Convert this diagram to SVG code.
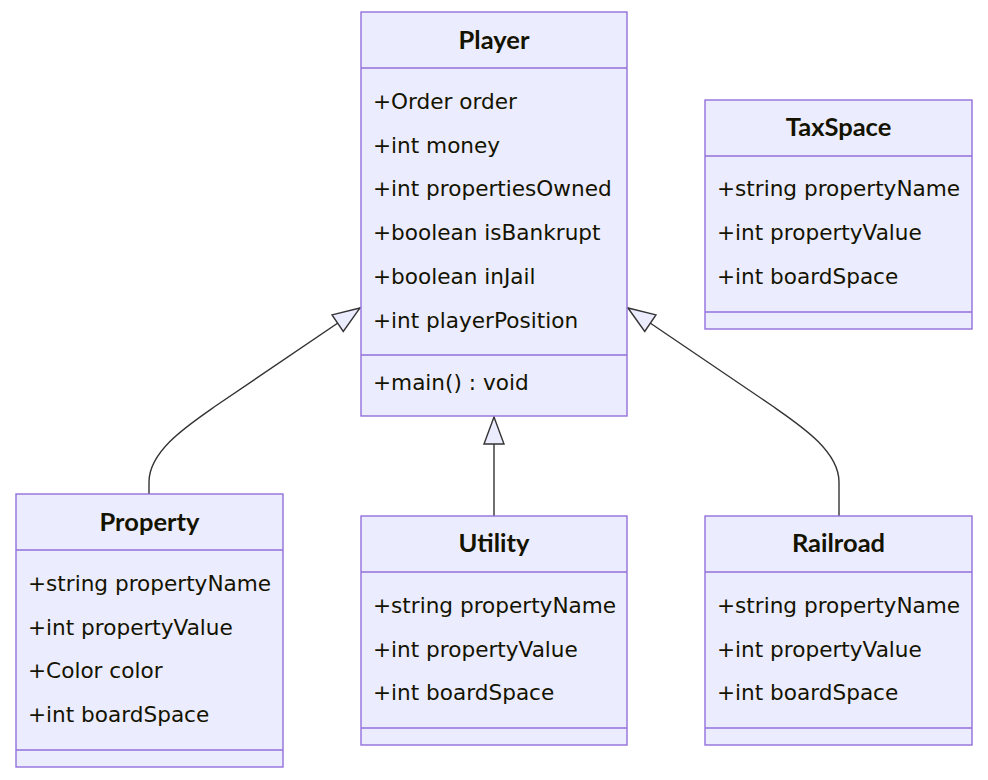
<svg xmlns="http://www.w3.org/2000/svg" width="988" height="780" viewBox="0 0 988 780">
<style>
.box{fill:#ECECFF;stroke:#9370DB;stroke-width:1.4}
.div{stroke:#9370DB;stroke-width:1.4}
.t{font-family:"DejaVu Sans",Verdana,sans-serif;font-size:21.6px;fill:#131300}
.h{font-family:Lato,"DejaVu Sans",sans-serif;font-size:25.5px;font-weight:bold;fill:#131300;text-anchor:middle}
.edge{fill:none;stroke:#333;stroke-width:1.4}
</style>
<defs>
<marker id="tri" markerUnits="userSpaceOnUse" markerWidth="32" markerHeight="26" viewBox="-29 -13 32 26" refX="0" refY="0" orient="auto" overflow="visible">
<path d="M0,0 L-27,-10 L-27,10 Z" fill="#ECECFF" stroke="#333" stroke-width="1.4"/>
</marker>
</defs>
<rect width="988" height="780" fill="#fff"/>
<g id="connectors">
<path class="edge" d="M149,494 L149,482 C149,450 190,424 217,405 L360,308" marker-end="url(#tri)"/>
<path class="edge" d="M494,516 L494,417" marker-end="url(#tri)"/>
<path class="edge" d="M839,516 L839,482 C839,450 798,424 771,405 L628,308" marker-end="url(#tri)"/>
</g>
<g id="Player">
<rect class="box" x="361" y="12" width="266" height="404"/>
<line class="div" x1="361" y1="68" x2="627" y2="68"/>
<line class="div" x1="361" y1="355" x2="627" y2="355"/>
<text class="h" x="494" y="48.5">Player</text>
<text class="t" x="373" y="109">+Order order</text>
<text class="t" x="373" y="153">+int money</text>
<text class="t" x="373" y="196">+int propertiesOwned</text>
<text class="t" x="373" y="240">+boolean isBankrupt</text>
<text class="t" x="373" y="284">+boolean inJail</text>
<text class="t" x="373" y="328">+int playerPosition</text>
<text class="t" x="373" y="390">+main() : void</text>
</g>
<g id="TaxSpace">
<rect class="box" x="705" y="100" width="267" height="229"/>
<line class="div" x1="705" y1="156" x2="972" y2="156"/>
<line class="div" x1="705" y1="312" x2="972" y2="312"/>
<text class="h" x="838.5" y="135.5">TaxSpace</text>
<text class="t" x="717" y="196">+string propertyName</text>
<text class="t" x="717" y="240">+int propertyValue</text>
<text class="t" x="717" y="284">+int boardSpace</text>
</g>
<g id="Property">
<rect class="box" x="16" y="494" width="267" height="273"/>
<line class="div" x1="16" y1="550" x2="283" y2="550"/>
<line class="div" x1="16" y1="750" x2="283" y2="750"/>
<text class="h" x="149.5" y="530.5">Property</text>
<text class="t" x="28" y="591">+string propertyName</text>
<text class="t" x="28" y="635">+int propertyValue</text>
<text class="t" x="28" y="678">+Color color</text>
<text class="t" x="28" y="722">+int boardSpace</text>
</g>
<g id="Utility">
<rect class="box" x="361" y="516" width="266" height="229"/>
<line class="div" x1="361" y1="572" x2="627" y2="572"/>
<line class="div" x1="361" y1="728" x2="627" y2="728"/>
<text class="h" x="494" y="551.5">Utility</text>
<text class="t" x="373" y="613">+string propertyName</text>
<text class="t" x="373" y="657">+int propertyValue</text>
<text class="t" x="373" y="700">+int boardSpace</text>
</g>
<g id="Railroad">
<rect class="box" x="705" y="516" width="267" height="229"/>
<line class="div" x1="705" y1="572" x2="972" y2="572"/>
<line class="div" x1="705" y1="728" x2="972" y2="728"/>
<text class="h" x="838.5" y="551.5">Railroad</text>
<text class="t" x="717" y="613">+string propertyName</text>
<text class="t" x="717" y="657">+int propertyValue</text>
<text class="t" x="717" y="700">+int boardSpace</text>
</g>
</svg>
